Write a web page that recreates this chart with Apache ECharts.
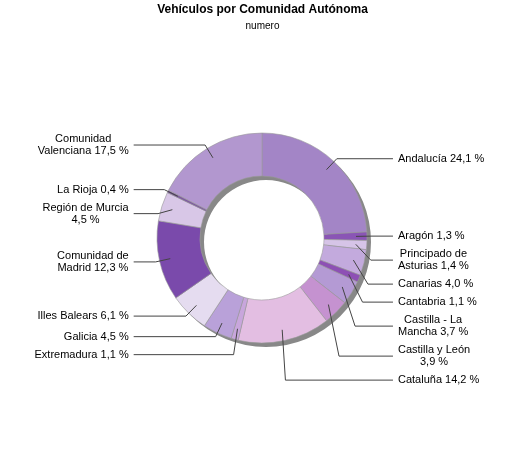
<!DOCTYPE html>
<html>
<head>
<meta charset="utf-8">
<title>Vehículos por Comunidad Autónoma</title>
<script type="text/javascript" src="https://cdn.jsdelivr.net/npm/echarts@6/dist/echarts.min.js"></script>
<style>
	html, body { margin: 0; padding: 0; background: #fff; }
</style>
</head>
<body>
	<div id="main" style="width: 525px; height: 450px;"></div>

	<script type="text/javascript">
		// comunidades, en el orden del gráfico (desde las 12 en sentido horario)
		var comunidades = [ 'Andalucía', 'Aragón', 'Principado de Asturias', 'Canarias',
				'Cantabria', 'Castilla - La Mancha', 'Castilla y León', 'Cataluña',
				'Extremadura', 'Galicia', 'Illes Balears', 'Comunidad de Madrid',
				'Región de Murcia', 'La Rioja', 'Comunidad Valenciana' ];
		// porcentaje de cada comunidad
		var porcentajes = [ 24.1, 1.3, 1.4, 4.0, 1.1, 3.7, 3.9, 14.2, 1.1, 4.5, 6.1, 12.3,
				4.5, 0.4, 17.5 ];
		// colores de los sectores
		var colores = [ '#a385c6', '#8a55b5', '#d6c4e7', '#c3aadd', '#8d50b4', '#b49ad4',
				'#c592d0', '#e3bee2', '#c8a6dc', '#b9a1d9', '#e5dcf0', '#7a4aab',
				'#d8c7e7', '#7e58a3', '#b297cf' ];

		var fuente = 'Liberation Sans';
		var anchoMax = 95; // ancho máximo de una línea de etiqueta

		// partir la etiqueta por palabras; el porcentaje ("3,9 %") no se corta
		var ctx = document.createElement('canvas').getContext('2d');
		ctx.font = '11px "' + fuente + '"';
		function partir(nombre, pct) {
			var palabras = nombre.split(' ');
			palabras.push(pct);
			var lineas = [];
			var actual = '';
			for (var i = 0; i < palabras.length; i++) {
				var prueba = actual ? actual + ' ' + palabras[i] : palabras[i];
				if (actual && ctx.measureText(prueba).width > anchoMax) {
					lineas.push(actual);
					actual = palabras[i];
				} else {
					actual = prueba;
				}
			}
			lineas.push(actual);
			// cada línea centrada dentro del bloque
			return lineas.map(function(l) {
				return '{c|' + l + '}';
			}).join('\n');
		}

		var myChart = echarts.init(document.getElementById('main'));

		var datos = [];
		var datosEtiqueta = [];
		for (var i = 0; i < comunidades.length; i++) {
			datos.push({
				name : comunidades[i],
				value : porcentajes[i],
				itemStyle : { color : colores[i] }
			});
			datosEtiqueta.push({ name : comunidades[i], value : porcentajes[i] });
		}

		var centro = [ 262, 238 ];

		option = {
			title : {
				text : 'Vehículos por Comunidad Autónoma',
				subtext : 'numero',
				left : 'center',
				top : -1,
				itemGap : 5,
				textStyle : {
					fontFamily : fuente,
					fontSize : 12,
					fontWeight : 'bold',
					color : '#000'
				},
				subtextStyle : {
					fontFamily : fuente,
					fontSize : 10,
					color : '#000'
				}
			},
			animation : false,
			series : [
					{ // sombra gris del anillo
						type : 'pie',
						silent : true,
						center : [ centro[0] + 4, centro[1] + 4 ],
						radius : [ 62, 105 ],
						z : 1,
						label : { show : false },
						labelLine : { show : false },
						itemStyle : { color : '#888888' },
						data : [ 1 ]
					},
					{ // anillo
						type : 'pie',
						silent : true,
						center : centro,
						radius : [ 62, 105 ],
						z : 2,
						label : { show : false },
						labelLine : { show : false },
						itemStyle : {
							borderColor : '#9a9a9a',
							borderWidth : 0.6
						},
						data : datos
					},
					{ // etiquetas (las líneas salen desde dentro del sector)
						type : 'pie',
						silent : true,
						center : centro,
						radius : [ 62, 94 ],
						z : 3,
						itemStyle : { color : 'rgba(0,0,0,0)' },
						label : {
							fontFamily : fuente,
							fontSize : 11,
							color : '#000',
							lineHeight : 12,
							padding : [ 2, 0 ],
							alignTo : 'labelLine',
							formatter : function(p) {
								return partir(p.name, p.value.toFixed(1).replace('.', ',') + ' %');
							},
							rich : {
								c : {
									align : 'center',
									fontFamily : fuente,
									fontSize : 11,
									lineHeight : 12,
									color : '#000'
								}
							}
						},
						labelLine : {
							length : 15,
							length2 : 22,
							lineStyle : { color : '#444', width : 1 }
						},
						data : datosEtiqueta
					} ]
		};

		myChart.setOption(option);
	</script>
</body>
</html>
